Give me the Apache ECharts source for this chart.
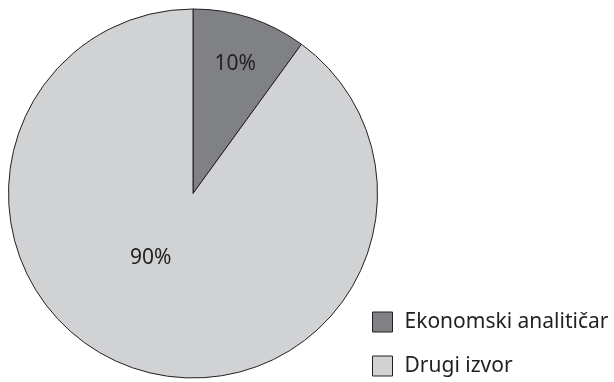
<!DOCTYPE html>
<html>
<head>
<meta charset="utf-8">
<style>
  html, body { margin: 0; padding: 0; background: #ffffff; }
  #chart { width: 614px; height: 382px; }
</style>
<script src="https://cdn.jsdelivr.net/npm/echarts@6/dist/echarts.min.js"></script>
</head>
<body>
<div id="chart"></div>
<script>
// Share of sources
const categories = ['Ekonomski analitičar', 'Drugi izvor'];
const shares = [10, 90];
const sliceColors = ['#808184', '#d1d2d4'];

// pie geometry
const CX = 193, CY = 193.5, R = 184.5;
// where each percentage label sits: fraction of radius and extra turn (deg)
const labelPlacement = [
  { dist: 0.74, turn: 0 },
  { dist: 0.42, turn: 15 }
];

const total = shares.reduce((a, b) => a + b, 0);
function labelPoint(i) {
  let before = 0;
  for (let k = 0; k < i; k++) before += shares[k];
  const midDeg = (before + shares[i] / 2) / total * 360 + labelPlacement[i].turn;
  const a = midDeg * Math.PI / 180;
  const d = labelPlacement[i].dist * R;
  return { x: CX + d * Math.sin(a), y: CY - d * Math.cos(a) };
}

const chart = echarts.init(document.getElementById('chart'), null, { renderer: 'canvas' });
const font = '"Noto Sans", sans-serif';

chart.setOption({
  animation: false,
  color: sliceColors,
  legend: {
    orient: 'vertical',
    left: 372,
    top: 311,
    padding: 0,
    itemWidth: 20,
    itemHeight: 20,
    itemGap: 22,
    icon: 'rect',
    itemStyle: { borderColor: '#231f20', borderWidth: 1 },
    textStyle: {
      fontFamily: font,
      fontSize: 21,
      color: '#231f20',
      lineHeight: 22,
      padding: [0, 0, 0, 7]
    },
    data: categories
  },
  series: [{
    type: 'pie',
    center: [CX, CY],
    radius: R,
    startAngle: 90,
    clockwise: true,
    avoidLabelOverlap: false,
    itemStyle: { borderColor: '#231f20', borderWidth: 1 },
    emphasis: { disabled: true },
    label: {
      show: true,
      position: 'inside',
      formatter: '{d}%',
      fontFamily: font,
      fontSize: 21,
      color: '#231f20'
    },
    labelLine: { show: false },
    labelLayout: function (params) {
      const p = labelPoint(params.dataIndex);
      return { x: p.x, y: p.y, align: 'center', verticalAlign: 'middle' };
    },
    data: categories.map((name, i) => ({ name: name, value: shares[i] }))
  }]
});
</script>
</body>
</html>
